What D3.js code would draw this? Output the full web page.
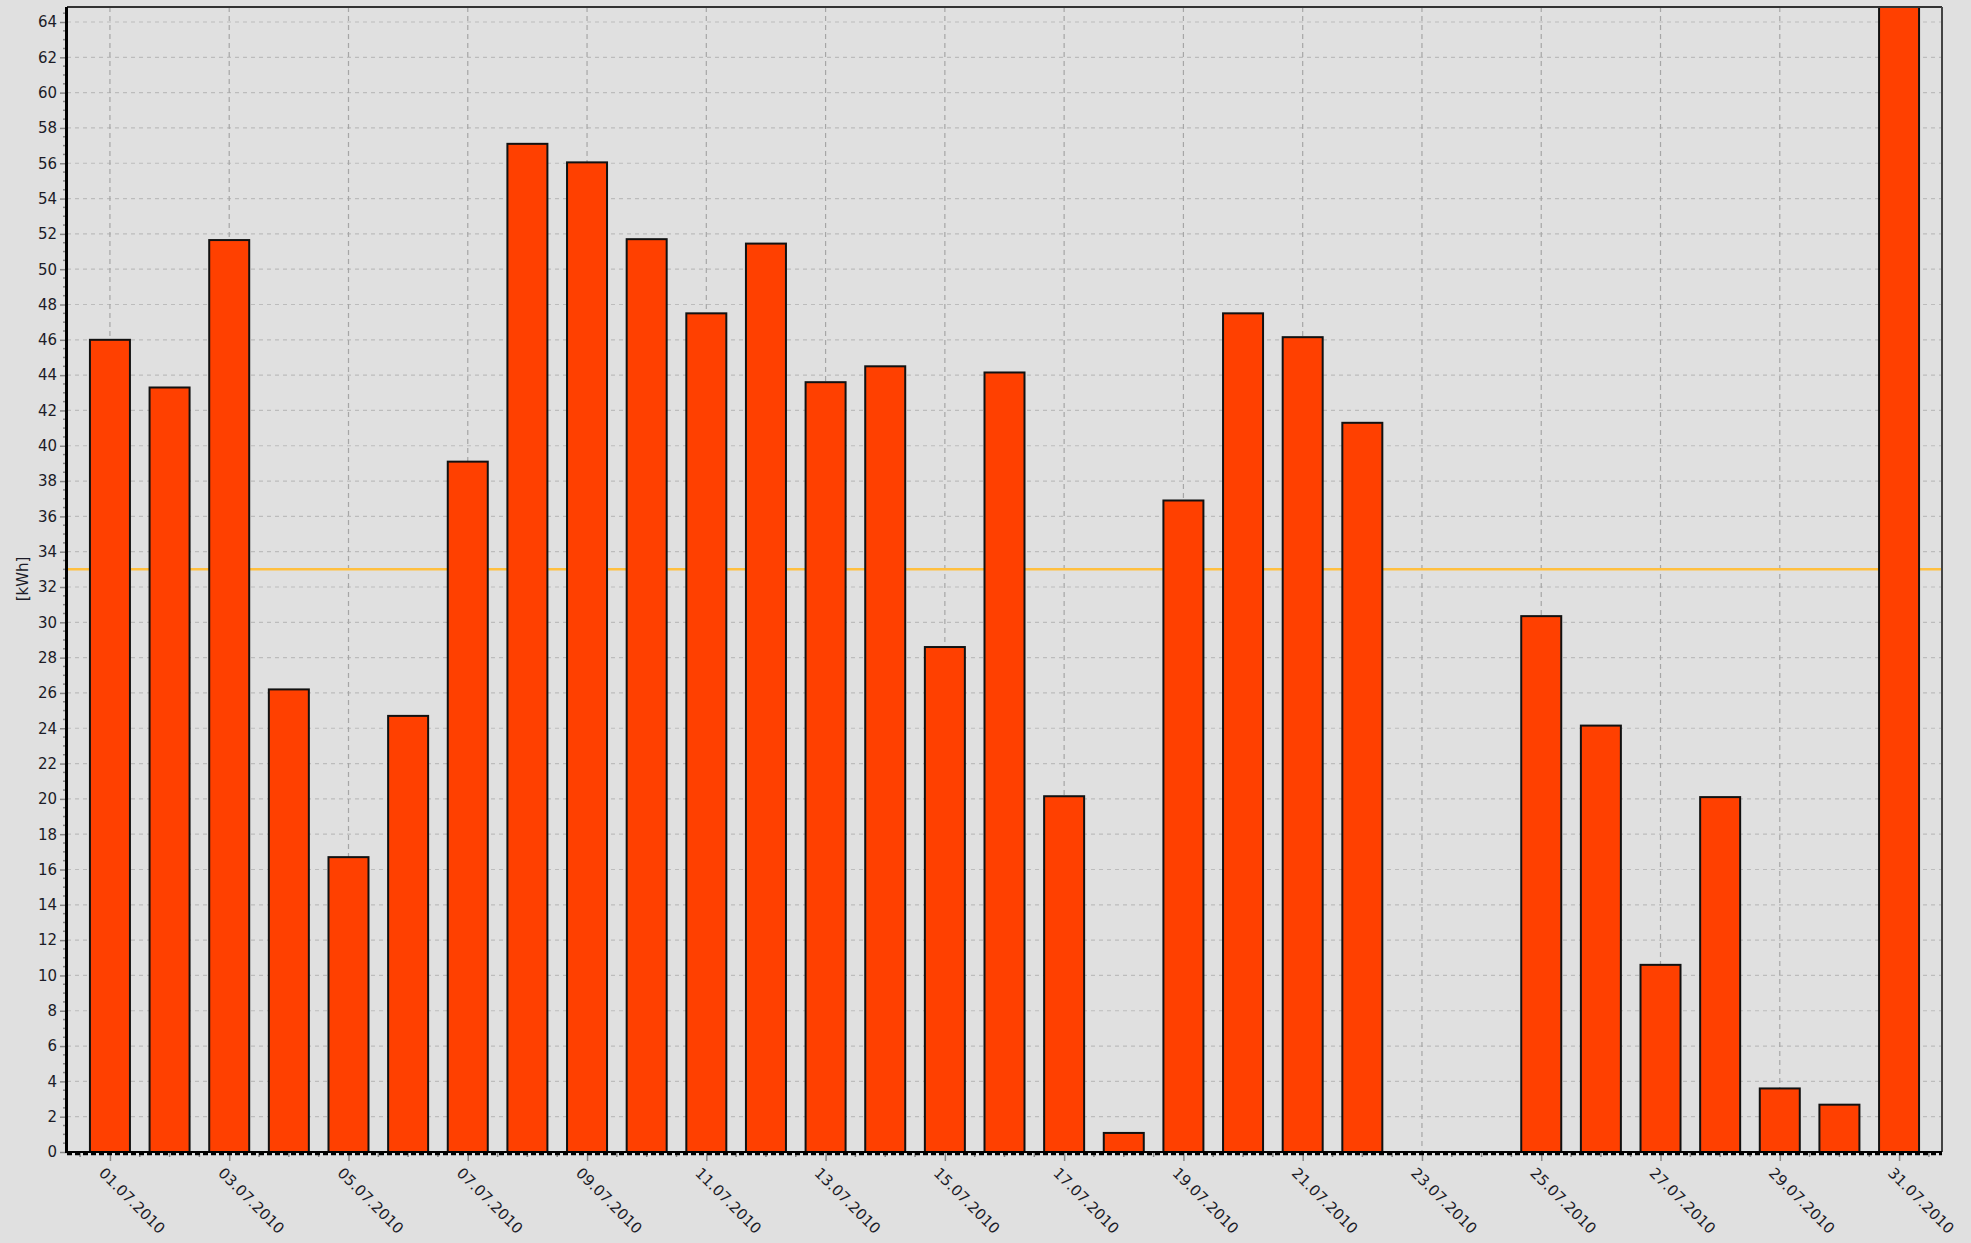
<!DOCTYPE html>
<html><head><meta charset="utf-8">
<script src="https://cdn.jsdelivr.net/npm/d3@7"></script>
<style>html,body{margin:0;padding:0;background:#e0e0e0;}svg{display:block;}</style>
</head><body>
<script>
const days = d3.range(1, 32);
const values = [46.0, 43.3, 51.65, 26.2, 16.7, 24.7, 39.1, 57.1, 56.05, 51.7,
  47.5, 51.45, 43.6, 44.5, 28.6, 44.15, 20.15, 1.08, 36.9, 47.5,
  46.15, 41.3, null, null, 30.35, 24.15, 10.6, 20.1, 3.6, 2.68, 66.0];
const average = 33.0;
const yTicks = d3.range(0, 65, 2);
const xLabelDays = d3.range(1, 32, 2);
const monthLabel = ".07.2010";
const unitLabel = "[kWh]";

const W = 1971, H = 1243;
const m = {left: 67, top: 7, right: 29, bottom: 91};
const iw = W - m.left - m.right, ih = H - m.top - m.bottom;
const font = "DejaVu Sans";

const svg = d3.select("body").append("svg").attr("width", W).attr("height", H)
  .style("background", "#e0e0e0");
const g = svg.append("g").attr("transform", `translate(${m.left},${m.top})`);

const x = d3.scaleLinear().domain([0.28, 31.72]).range([0, iw]);
const y = d3.scaleLinear().domain([0, 64.85]).range([ih, 0]);
const barW = 40;

svg.append("defs").append("clipPath").attr("id", "clip")
  .append("rect").attr("x", 0).attr("y", 0).attr("width", iw).attr("height", ih);

// horizontal grid
g.append("g").selectAll("line").data(yTicks.filter(d => d > 0)).join("line")
  .attr("x1", 0).attr("x2", iw).attr("y1", d => y(d)).attr("y2", d => y(d))
  .attr("stroke", "#bcbcbc").attr("stroke-width", 1.2).attr("stroke-dasharray", "4,4");
// vertical grid
g.append("g").selectAll("line").data(xLabelDays).join("line")
  .attr("x1", d => x(d)).attr("x2", d => x(d)).attr("y1", 0).attr("y2", ih)
  .attr("stroke", "#a6a6a6").attr("stroke-width", 1.2).attr("stroke-dasharray", "5,4");

// average line
g.append("line").attr("x1", 0).attr("x2", iw).attr("y1", y(average)).attr("y2", y(average))
  .attr("stroke", "#ffbf3f").attr("stroke-width", 2.5);

// bars
const data = days.map((d, i) => ({day: d, v: values[i]})).filter(d => d.v != null);
g.append("g").attr("clip-path", "url(#clip)").selectAll("rect").data(data).join("rect")
  .attr("x", d => x(d.day) - barW / 2).attr("width", barW)
  .attr("y", d => y(d.v)).attr("height", d => y(0) - y(d.v))
  .attr("fill", "#ff4000").attr("stroke", "#111").attr("stroke-width", 2);

// frame top and right
g.append("line").attr("x1", 0).attr("x2", iw).attr("y1", 0).attr("y2", 0)
  .attr("stroke", "#333").attr("stroke-width", 2);
g.append("line").attr("x1", iw).attr("x2", iw).attr("y1", 0).attr("y2", ih)
  .attr("stroke", "#444").attr("stroke-width", 2);

// y axis
const yAxis = g.append("g").call(d3.axisLeft(y).tickValues(yTicks).tickSize(7).tickPadding(3)
  .tickFormat(d3.format("d")));
yAxis.select(".domain").remove();
yAxis.selectAll(".tick line").attr("stroke", "#888").attr("stroke-width", 1.5);
yAxis.selectAll("text").attr("font-family", font).attr("font-size", 15).attr("fill", "#1c1c28");
g.append("g").selectAll("line").data(d3.range(0.5, 64.85, 0.5).filter(d => d % 2 !== 0)).join("line")
  .attr("x1", -4).attr("x2", 0).attr("y1", d => y(d)).attr("y2", d => y(d))
  .attr("stroke", "#888").attr("stroke-width", 1.5);
g.append("line").attr("x1", -0.5).attr("x2", -0.5).attr("y1", 0).attr("y2", ih + 1)
  .attr("stroke", "#000").attr("stroke-width", 3);

// x axis
const xAxis = g.append("g").attr("transform", `translate(0,${ih})`)
  .call(d3.axisBottom(x).tickValues(xLabelDays).tickSize(9).tickFormat(""));
xAxis.select(".domain").remove();
xAxis.selectAll(".tick line").attr("stroke", "#888").attr("stroke-width", 1.5);
g.append("g").selectAll("line").data(d3.range(0.5, 31.6, 0.5).filter(d => d % 2 !== 1)).join("line")
  .attr("x1", d => x(d)).attr("x2", d => x(d)).attr("y1", ih).attr("y2", ih + 5)
  .attr("stroke", "#888").attr("stroke-width", 1.5);
g.append("line").attr("x1", 0).attr("x2", iw).attr("y1", ih).attr("y2", ih)
  .attr("stroke", "#000").attr("stroke-width", 2);
g.append("line").attr("x1", 0).attr("x2", iw).attr("y1", ih + 2).attr("y2", ih + 2)
  .attr("stroke", "#000").attr("stroke-width", 2.5).attr("stroke-dasharray", "5,3");

g.append("g").selectAll("text").data(xLabelDays).join("text")
  .attr("transform", d => `translate(${x(d) - 12},${ih + 22}) rotate(45)`)
  .attr("font-family", font).attr("font-size", 15).attr("fill", "#1c1c28")
  .text(d => String(d).padStart(2, "0") + monthLabel);

// unit label
svg.append("text").attr("transform", `translate(28,${579}) rotate(-90)`)
  .attr("text-anchor", "middle").attr("font-family", font).attr("font-size", 15)
  .attr("fill", "#1c1c28").text(unitLabel);
</script>
</body></html>
